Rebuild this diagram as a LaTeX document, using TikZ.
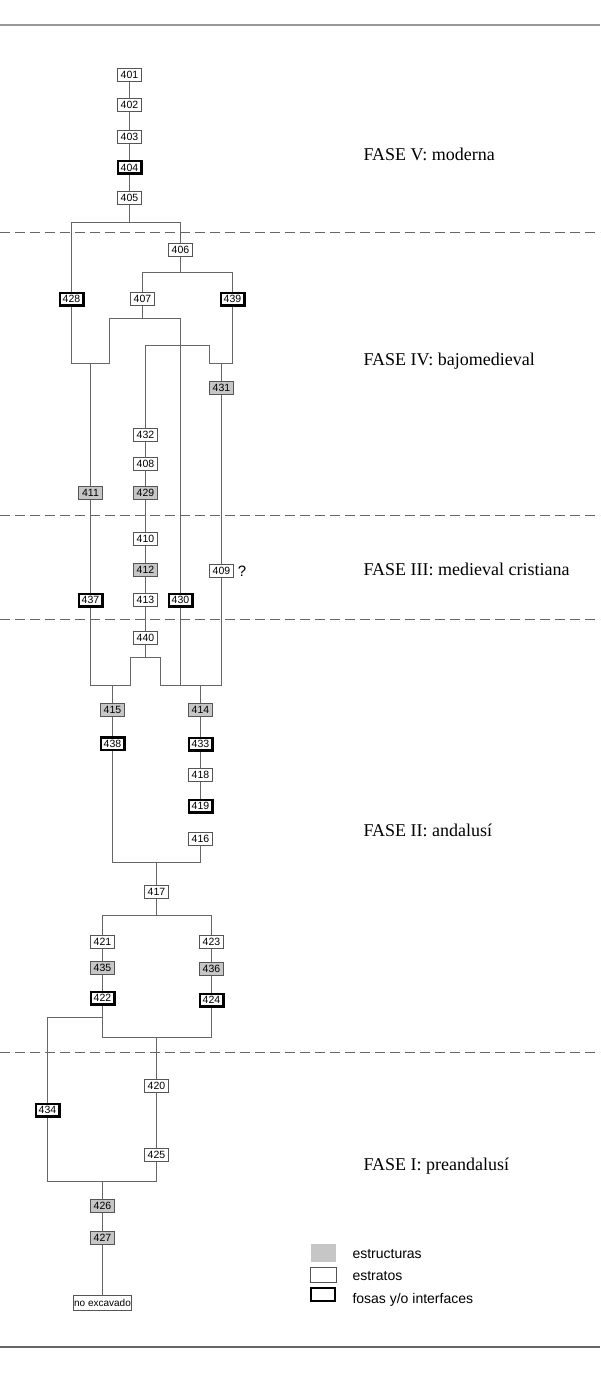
\documentclass[tikz,border=0pt]{standalone}
\usepackage{fontspec}
\setmainfont{Liberation Serif}
\newfontfamily\arialf{Liberation Sans}
\usetikzlibrary{backgrounds}
\definecolor{lncol}{HTML}{666666}
\definecolor{dashcol}{HTML}{666666}
\definecolor{bdcol}{HTML}{555555}
\definecolor{grfill}{HTML}{C6C6C6}
\tikzset{
  ln/.style={draw=lncol, line width=1.2pt},
  ubox/.style={draw=bdcol, line width=0.8pt, fill=white, minimum width=24pt, minimum height=13pt, inner sep=0pt,
    font=\arialf\fontsize{10.5}{11}\selectfont},
  stru/.style={ubox, fill=grfill},
  fosa/.style={ubox, draw=black, line width=2.5pt, minimum width=23.5pt, minimum height=12.5pt},
  fase/.style={anchor=base west, inner sep=0pt, font=\fontsize{18}{20}\selectfont},
  legtxt/.style={anchor=base west, inner sep=0pt, font=\arialf\fontsize{14}{16}\selectfont},
  phaseline/.style={draw=dashcol, line width=1.5pt, dash pattern=on 9.5pt off 5.5pt}
}
\begin{document}
\begin{tikzpicture}[x=1pt,y=-1pt]
\useasboundingbox (0,0) rectangle (600,1375);
% frame lines
\draw[draw=black!40, line width=2pt] (0,25) -- (600,25);
\draw[draw=black!60, line width=1.5pt] (0,1347) -- (600,1347);
% phase separators
\draw[phaseline] (0,232.5) -- (600,232.5);
\draw[phaseline] (0,515.5) -- (600,515.5);
\draw[phaseline] (0,619.5) -- (600,619.5);
\draw[phaseline] (0,1052.5) -- (600,1052.5);
% phase labels
\node[fase] (fV) at (363.3,161) {FASE V: moderna};
\node[fase] (fIV) at (363.3,365) {FASE IV: bajomedieval};
\node[fase] (fIII) at (363.3,575.7) {FASE III: medieval cristiana};
\node[fase] (fII) at (363.3,836.7) {FASE II: andalusí};
\node[fase] (fI) at (363.3,1170.7) {FASE I: preandalusí};
% nodes
\node[ubox] (n401) at (129.5,75.3) {401};
\node[ubox] (n402) at (129.5,105) {402};
\node[ubox] (n403) at (129.5,136.5) {403};
\node[fosa] (n404) at (129.5,167.5) {404};
\node[ubox] (n405) at (129.5,198) {405};
\node[ubox] (n406) at (180.5,249.5) {406};
\node[fosa] (n428) at (71.5,299) {428};
\node[ubox] (n407) at (142.5,299) {407};
\node[fosa] (n439) at (232.5,299) {439};
\node[stru] (n431) at (221.5,387.8) {431};
\node[ubox] (n432) at (145.5,435) {432};
\node[ubox] (n408) at (145.5,463.7) {408};
\node[stru] (n429) at (145.5,492.8) {429};
\node[stru] (n411) at (90.5,492.8) {411};
\node[ubox] (n410) at (145.5,539) {410};
\node[stru] (n412) at (145.5,569.5) {412};
\node[ubox] (n409) at (221.5,571) {409};
\node[anchor=center, inner sep=0pt, font=\arialf\fontsize{15}{16}\selectfont] (q409) at (242,571) {?};
\node[fosa] (n437) at (90.5,600) {437};
\node[ubox] (n413) at (145.5,600) {413};
\node[fosa] (n430) at (180.5,600) {430};
\node[ubox] (n440) at (145.5,638.3) {440};
\node[stru] (n415) at (112.5,709.7) {415};
\node[stru] (n414) at (200.5,709.7) {414};
\node[fosa] (n438) at (112.5,743.5) {438};
\node[fosa] (n433) at (200.5,744) {433};
\node[ubox] (n418) at (200.5,775) {418};
\node[fosa] (n419) at (200.5,806) {419};
\node[ubox] (n416) at (200.5,838.8) {416};
\node[ubox] (n417) at (156.5,891.7) {417};
\node[ubox] (n421) at (102.5,942) {421};
\node[ubox] (n423) at (211.5,942) {423};
\node[stru] (n435) at (102.5,967.5) {435};
\node[stru] (n436) at (211.5,969) {436};
\node[fosa] (n422) at (102.5,998.3) {422};
\node[fosa] (n424) at (211.5,1000) {424};
\node[ubox] (n420) at (156.5,1085.8) {420};
\node[fosa] (n434) at (47.5,1110) {434};
\node[ubox] (n425) at (156.5,1155.3) {425};
\node[stru] (n426) at (102.5,1205.5) {426};
\node[stru] (n427) at (102.5,1238) {427};
\node[ubox, minimum width=58.7pt, minimum height=15pt, font=\arialf\fontsize{10}{11}\selectfont] (nne) at (102.5,1302.5) {no excavado};
% junction coordinates
\coordinate (j405) at (129.5,222.5);
\coordinate (j406) at (180.5,272.5);
\coordinate (j407) at (142.5,318.5);
\coordinate (k1) at (109.5,363.5);
\coordinate (h1) at (209.5,345.5);
\coordinate (h2) at (209.5,363.5);
\coordinate (j440) at (145.5,657.5);
\coordinate (p1) at (130.5,657.5);
\coordinate (p2) at (160.5,657.5);
\coordinate (q1) at (130.5,685.5);
\coordinate (q2) at (160.5,685.5);
\coordinate (r417) at (156.5,862.5);
\coordinate (s417) at (156.5,915.5);
\coordinate (t1) at (156.5,1037.5);
\coordinate (t2) at (102.5,1017.5);
\coordinate (u1) at (102.5,1181.5);
% connectors
\begin{scope}[on background layer]
\fill[white] (0,0) rectangle (600,1375);
\draw[ln] (n401.center) -- (n402.center) -- (n403.center) -- (n404.center) -- (n405.center) -- (j405);
\draw[ln] (n428.center) |- (j405) -| (n406.center);
\draw[ln] (n406.center) -- (j406);
\draw[ln] (n407.center) |- (j406) -| (n439.center);
\draw[ln] (n407.center) -- (j407);
\draw[ln] (n430.center) |- (j407) -| (k1) -| (n428.center);
\draw[ln] (n411.center) |- (k1);
\draw[ln] (n411.center) -- (n437.center);
\draw[ln] (n432.center) |- (h1) -- (h2) -| (n439.center);
\draw[ln] (n431.center) |- (h2);
\draw[ln] (n431.center) -- (n409.center);
\draw[ln] (n432.center) -- (n408.center) -- (n429.center) -- (n410.center) -- (n412.center) -- (n413.center) -- (n440.center) -- (j440);
\draw[ln] (n437.center) |- (q1) -- (p1) -- (p2) -- (q2) -| (n409.center);
\draw[ln] (n430.center) -- (n430.center |- q2);
\draw[ln] (n415.center) -- (n415.center |- q1);
\draw[ln] (n414.center) -- (n414.center |- q2);
\draw[ln] (n415.center) -- (n438.center) |- (r417) -| (n416.center);
\draw[ln] (r417) -- (n417.center) -- (s417);
\draw[ln] (n414.center) -- (n433.center) -- (n418.center) -- (n419.center);
\draw[ln] (n421.center) |- (s417) -| (n423.center);
\draw[ln] (n421.center) -- (n435.center) -- (n422.center);
\draw[ln] (n423.center) -- (n436.center) -- (n424.center);
\draw[ln] (n422.center) |- (t1) -| (n424.center);
\draw[ln] (n434.center) |- (t2);
\draw[ln] (t1) -- (n420.center) -- (n425.center);
\draw[ln] (n425.center) |- (u1) -| (n434.center);
\draw[ln] (u1) -- (n426.center) -- (n427.center) -- (nne.center);
\end{scope}
% legend
\node[stru, draw=none, minimum width=25.3pt, minimum height=17.4pt] (lg1) at (323.3,1253) {};
\node[ubox, minimum width=26.7pt, minimum height=15.4pt] (lg2) at (323.3,1275) {};
\node[ubox, draw=black, line width=2pt, minimum width=24pt, minimum height=13pt] (lg3) at (323.3,1294.8) {};
\node[legtxt] (lt1) at (352.3,1258.3) {estructuras};
\node[legtxt] (lt2) at (352.3,1280.7) {estratos};
\node[legtxt] (lt3) at (352.3,1303.3) {fosas y/o interfaces};
\end{tikzpicture}
\end{document}
